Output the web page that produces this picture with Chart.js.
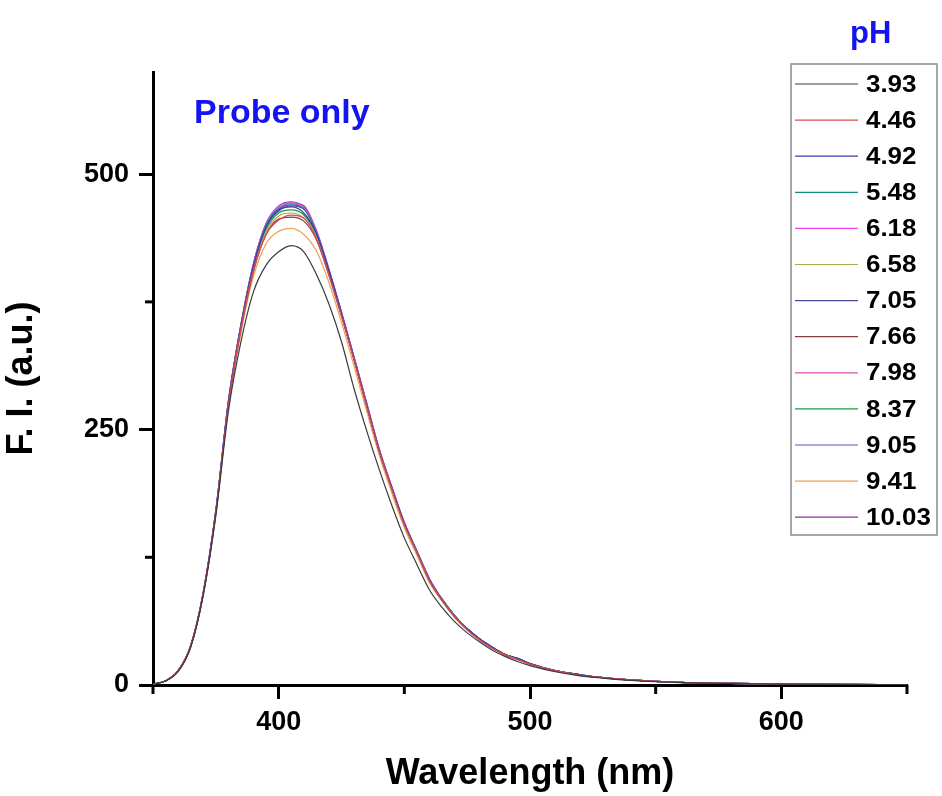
<!DOCTYPE html>
<html>
<head>
<meta charset="utf-8">
<script src="https://cdn.jsdelivr.net/npm/chart.js@4.4.1/dist/chart.umd.min.js"></script>
<style>
  html, body { margin: 0; padding: 0; background: #fff; }
  #wrap { width: 942px; height: 796px; position: relative; }
</style>
</head>
<body>
<div id="wrap"><canvas id="spectra"></canvas></div>
<script>
// emission wavelengths (nm)
const wavelengths = [350, 355, 360, 365, 370, 375, 380, 385, 390, 395, 400, 405, 410, 415, 420, 425, 430, 435, 440, 445, 450,
    455, 460, 465, 470, 475, 480, 485, 490, 495, 500, 510, 520, 530, 540, 550, 560, 580, 600, 625, 650];

// pH values (legend) and line colours
const phLabels = ['3.93', '4.46', '4.92', '5.48', '6.18', '6.58', '7.05', '7.66', '7.98', '8.37', '9.05', '9.41', '10.03'];
const phColors = ['#3a3a3a', '#e04848', '#3c3cb4', '#0f8c82', '#f040f0', '#a8a850', '#4a4a9c', '#8c3c3c',
    '#e050b0', '#1c9c3c', '#5a50c0', '#f0a050', '#9030a0'];

// fluorescence intensity (a.u.), one array per pH
const fi393 = [1, 4, 13, 37, 88, 166, 268, 336, 385, 411, 424, 430, 424, 402, 373, 336, 290, 249, 211, 176, 144,
    118, 93, 76, 62, 51, 42, 34, 28, 23, 19, 13, 9, 6.5, 4.5, 3.2, 2.3, 1.4, 0.9, 0.5, 0.3];
const fi446 = [1, 4, 14, 38, 89, 168, 274, 349, 406, 441, 455, 460, 457, 437, 401, 361, 318, 273, 229, 192, 157,
    130, 102, 83, 67, 54, 44, 36, 30, 25, 20.5, 14, 9.5, 7, 5, 3.5, 2.5, 1.5, 1, 0.6, 0.4];
const fi492 = [1, 4, 14, 38, 90, 170, 276, 351, 410, 448, 465, 468, 462, 442, 405, 363, 319, 274, 229, 193, 158,
    130, 103, 83, 67, 55, 45, 37, 30, 26, 21, 14, 10, 7, 5, 3.5, 2.5, 1.5, 1, 0.6, 0.4];
const fi548 = [1, 4, 14, 38, 90, 170, 277, 352, 411, 450, 466, 470, 466, 443, 406, 364, 320, 275, 230, 193, 158,
    131, 103, 84, 68, 55, 45, 37, 30, 26, 21, 14, 10, 7, 5, 3.5, 2.5, 1.5, 1, 0.6, 0.4];
const fi618 = [1, 4, 14, 38, 91, 171, 278, 353, 412, 451, 468, 472, 467, 444, 406, 365, 321, 276, 231, 194, 159,
    131, 104, 84, 68, 55, 45, 37, 30, 26, 21, 14, 10, 7, 5, 3.5, 2.5, 1.5, 1, 0.6, 0.4];
const fi658 = [1, 4, 14, 38, 89, 169, 275, 350, 408, 444, 459, 462, 457, 439, 403, 362, 319, 274, 229, 192, 157,
    130, 102, 83, 67, 54, 44, 37, 30, 25, 21, 14, 10, 7, 5, 3.5, 2.5, 1.5, 1, 0.6, 0.4];
const fi705 = [1, 4, 14, 38, 90, 170, 277, 352, 411, 449, 464, 469, 466, 443, 405, 364, 320, 275, 230, 193, 158,
    131, 103, 84, 68, 55, 45, 37, 30, 26, 21, 14, 10, 7, 5, 3.5, 2.5, 1.5, 1, 0.6, 0.4];
const fi766 = [1, 4, 14, 38, 89, 168, 274, 348, 405, 441, 456, 458, 454, 436, 401, 361, 318, 273, 229, 192, 157,
    130, 102, 83, 67, 54, 44, 36, 30, 25, 20.5, 14, 9.5, 7, 5, 3.5, 2.5, 1.5, 1, 0.6, 0.4];
const fi798 = [1, 4, 14, 39, 91, 171, 278, 353, 413, 451, 467, 471, 468, 445, 407, 365, 321, 276, 231, 194, 159,
    131, 104, 84, 68, 55, 45, 37, 30, 26, 21, 14, 10, 7, 5, 3.5, 2.5, 1.5, 1, 0.6, 0.4];
const fi837 = [1, 4, 14, 38, 90, 170, 276, 351, 410, 446, 462, 465, 460, 441, 404, 363, 319, 274, 230, 193, 158,
    130, 103, 83, 67, 55, 45, 37, 30, 26, 21, 14, 10, 7, 5, 3.5, 2.5, 1.5, 1, 0.6, 0.4];
const fi905 = [1, 4, 14, 38, 90, 170, 277, 352, 412, 452, 469, 473, 467, 444, 406, 364, 320, 275, 230, 193, 158,
    131, 103, 84, 68, 55, 45, 37, 30, 26, 21, 14, 10, 7, 5, 3.5, 2.5, 1.5, 1, 0.6, 0.4];
const fi941 = [1, 4, 14, 37, 88, 167, 272, 345, 400, 432, 444, 447, 441, 425, 394, 355, 312, 268, 225, 188, 154,
    127, 100, 82, 66, 54, 44, 36, 29, 25, 20.5, 14, 9.5, 7, 5, 3.5, 2.5, 1.5, 1, 0.6, 0.4];
const fi1003 = [1, 4, 14, 39, 91, 171, 278, 353, 413, 451, 466, 472, 469, 445, 407, 365, 321, 276, 231, 194, 159,
    131, 104, 84, 68, 55, 45, 37, 30, 26, 21, 14, 10, 7, 5, 3.5, 2.5, 1.5, 1, 0.6, 0.4];

const allSeries = [fi393, fi446, fi492, fi548, fi618, fi658, fi705, fi766, fi798, fi837, fi905, fi941, fi1003];

const xTicksMajor = [400, 500, 600];
const yTicksMajor = [0, 250, 500];

const FONT = "'Liberation Sans', Arial, sans-serif";

const datasets = allSeries.map((series, i) => ({
    label: phLabels[i],
    data: wavelengths.map((w, j) => ({ x: w, y: series[j] })),
    borderColor: phColors[i],
    borderWidth: 1.2,
    pointRadius: 0,
    fill: false,
    cubicInterpolationMode: 'monotone',
}));

// minor ticks, legend box and the text labels
const decorations = {
    id: 'decorations',
    afterDraw(chart) {
        const ctx = chart.ctx;
        const xs = chart.scales.x;
        const ys = chart.scales.y;
        const area = chart.chartArea;
        ctx.save();
        ctx.strokeStyle = '#000';
        ctx.lineWidth = 3;
        xs.ticks.forEach((t) => {
            if (xTicksMajor.includes(t.value)) return;
            const px = xs.getPixelForValue(t.value);
            ctx.beginPath();
            ctx.moveTo(px, area.bottom);
            ctx.lineTo(px, area.bottom + 9);
            ctx.stroke();
        });
        ys.ticks.forEach((t) => {
            if (yTicksMajor.includes(t.value)) return;
            const py = ys.getPixelForValue(t.value);
            ctx.beginPath();
            ctx.moveTo(area.left, py);
            ctx.lineTo(area.left - 8, py);
            ctx.stroke();
        });

        // legend
        const boxX = 791, boxY = 64, boxW = 146, boxH = 471;
        ctx.lineWidth = 1.5;
        ctx.strokeStyle = '#8a8a8a';
        ctx.strokeRect(boxX, boxY, boxW, boxH);
        chart.data.datasets.forEach((ds, i) => {
            const rowY = 84 + i * 36.1;
            ctx.strokeStyle = ds.borderColor;
            ctx.lineWidth = 1.2;
            ctx.beginPath();
            ctx.moveTo(795, rowY);
            ctx.lineTo(858, rowY);
            ctx.stroke();
            ctx.save();
            ctx.translate(866, rowY + 1);
            ctx.scale(1.08, 1);
            ctx.fillStyle = '#000';
            ctx.font = 'bold 24px ' + FONT;
            ctx.textAlign = 'left';
            ctx.textBaseline = 'middle';
            ctx.fillText(ds.label, 0, 0);
            ctx.restore();
        });

        ctx.fillStyle = '#1414f0';
        ctx.textAlign = 'left';
        ctx.textBaseline = 'alphabetic';
        ctx.font = 'bold 31px ' + FONT;
        ctx.fillText('pH', 850, 43);
        ctx.font = 'bold 34px ' + FONT;
        ctx.fillText('Probe only', 194, 123);
        ctx.restore();
    }
};

new Chart(document.getElementById('spectra'), {
    type: 'line',
    data: { datasets: datasets },
    options: {
        responsive: true,
        maintainAspectRatio: false,
        animation: false,
        layout: { padding: { left: 0, right: 35, top: 72, bottom: 0 } },
        plugins: {
            legend: { display: false },
            tooltip: { enabled: false },
        },
        scales: {
            x: {
                type: 'linear',
                min: 350,
                max: 650,
                afterFit: (s) => { s.height = 111; },
                ticks: {
                    stepSize: 50,
                    padding: 7,
                    color: '#000',
                    font: { family: FONT, size: 27, weight: 'bold' },
                    maxRotation: 0,
                    autoSkip: false,
                    callback: (v) => (xTicksMajor.includes(v) ? String(v) : ''),
                },
                grid: {
                    drawOnChartArea: false,
                    tickLength: 14,
                    tickWidth: 3,
                    tickColor: (c) => (c.tick && xTicksMajor.includes(c.tick.value) ? '#000' : 'rgba(0,0,0,0)'),
                },
                border: { color: '#000', width: 3 },
                title: {
                    display: true,
                    text: 'Wavelength (nm)',
                    color: '#000',
                    font: { family: FONT, size: 36, weight: 'bold' },
                    padding: { top: 2, bottom: 0 },
                },
            },
            y: {
                min: 0,
                max: 600,
                afterFit: (s) => { s.width = 153; },
                afterBuildTicks: (s) => { s.ticks = s.ticks.filter((t) => t.value % 125 === 0); },
                ticks: {
                    stepSize: 125,
                    padding: 10,
                    color: '#000',
                    font: { family: FONT, size: 27, weight: 'bold' },
                    autoSkip: false,
                    callback: (v) => (yTicksMajor.includes(v) ? String(v) : ''),
                },
                grid: {
                    drawOnChartArea: false,
                    tickLength: 14,
                    tickWidth: 3,
                    tickColor: (c) => (c.tick && yTicksMajor.includes(c.tick.value) ? '#000' : 'rgba(0,0,0,0)'),
                },
                border: { color: '#000', width: 3 },
                title: {
                    display: true,
                    text: 'F. I. (a.u.)',
                    color: '#000',
                    font: { family: FONT, size: 36, weight: 'bold' },
                    padding: { top: 0, bottom: 6 },
                },
            },
        },
    },
    plugins: [decorations],
});
</script>
</body>
</html>
